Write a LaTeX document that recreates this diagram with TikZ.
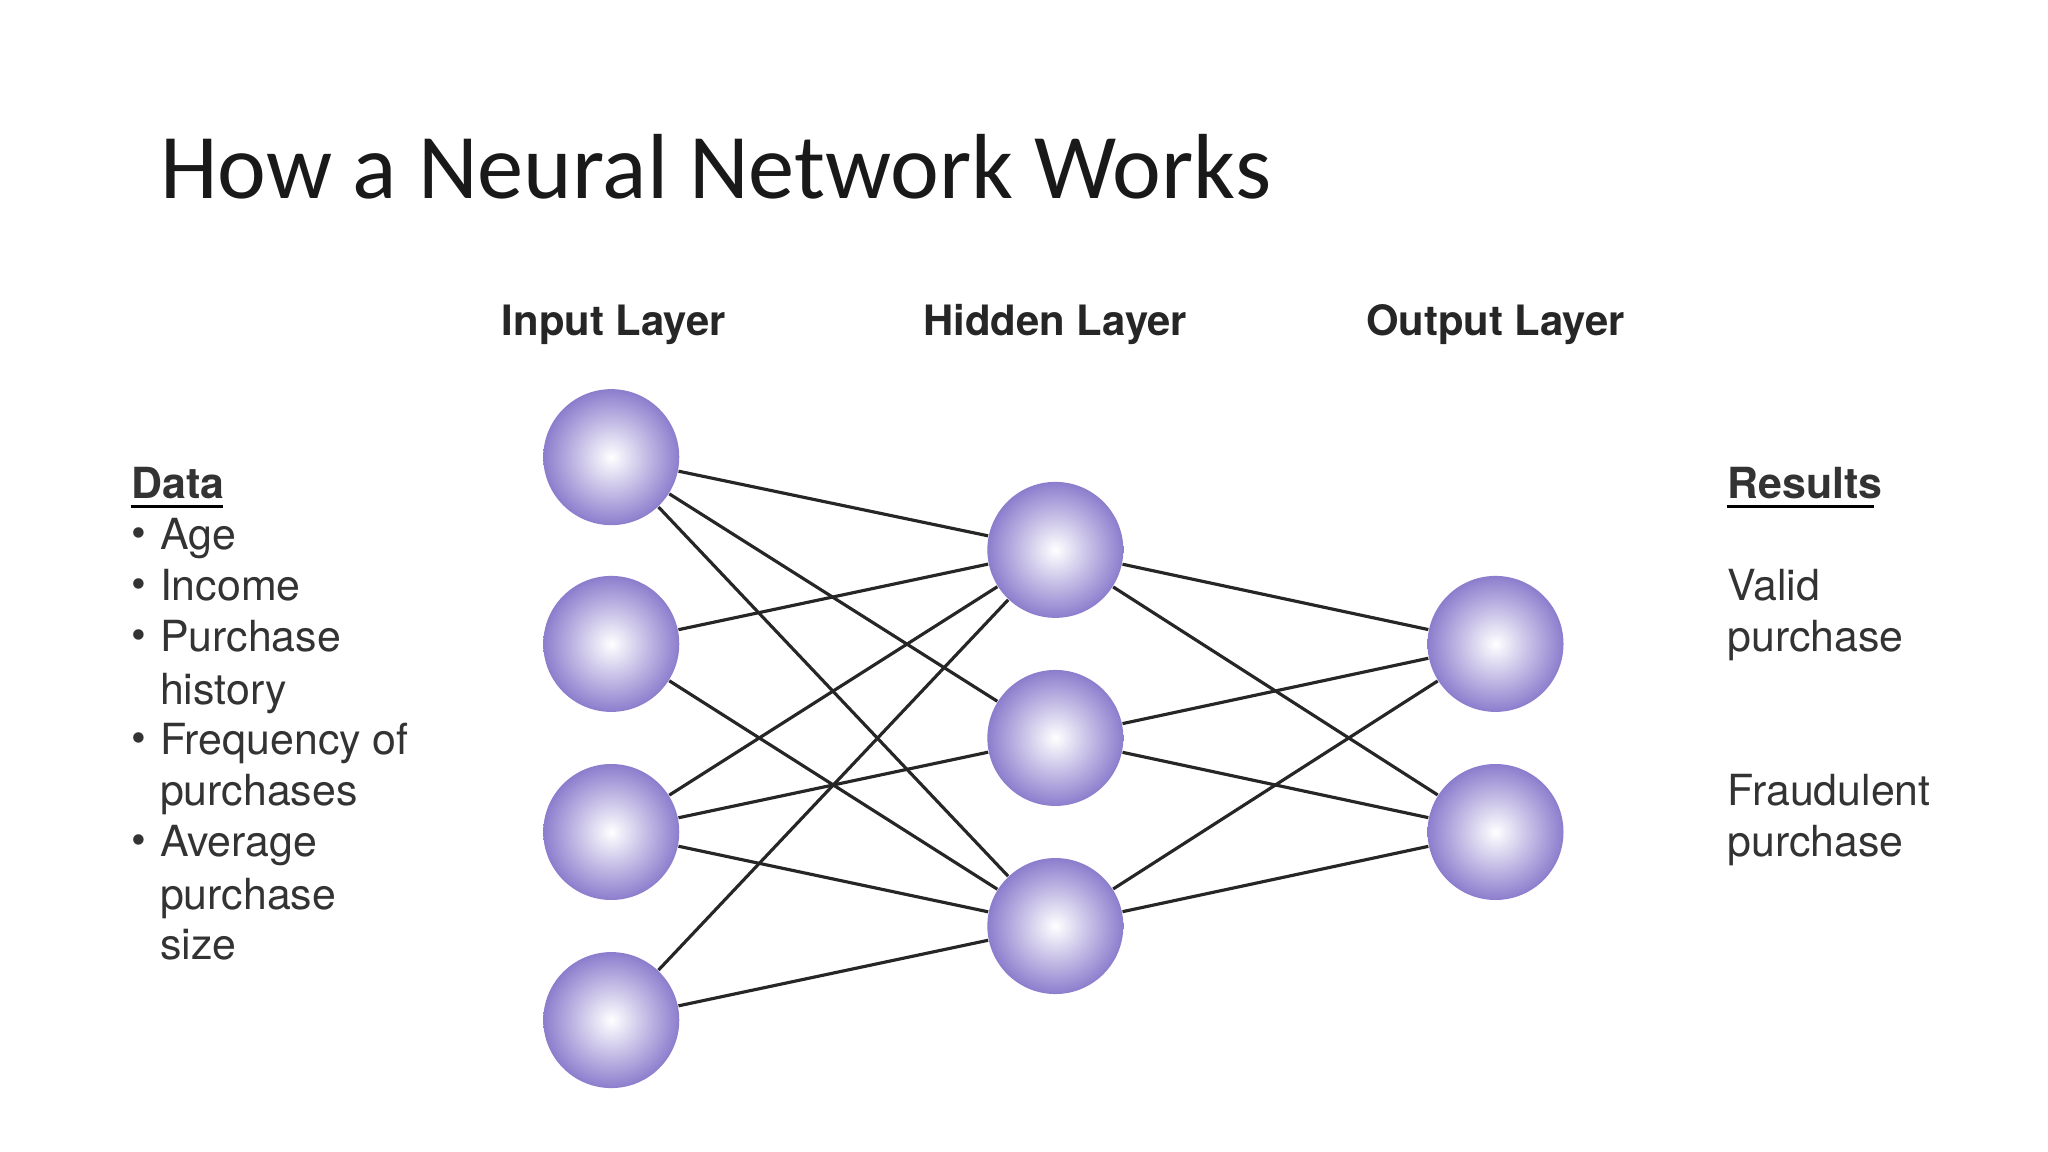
\documentclass[tikz,border=0pt]{standalone}
\usepackage{fontspec}
\setmainfont{TeX Gyre Heros}
\newfontfamily\titlef{Carlito}
\newcommand{\blt}{\makebox[22\dimexpr 0.013061cm\relax][l]{\raisebox{0.1ex}{\large\textbullet}}}
\begin{document}
\begin{tikzpicture}[x=0.013061cm,y=-0.013061cm,
  neuron/.style={circle,minimum size=1.36cm,inner sep=0pt,draw=none,
    inner color=white,outer color={rgb,255:red,140;green,125;blue,205},
    shading=radial},
  link/.style={draw=black!85,line width=0.9pt},
  layer/.style={font=\fontsize{11.9}{14}\selectfont\bfseries,anchor=base,text=black!85},
  txt/.style={font=\fontsize{12.2}{14}\selectfont,anchor=base west,inner sep=0pt,text=black!80}]
\useasboundingbox (0,0) rectangle (1568,882);
\node[anchor=base west,inner sep=0pt,font=\titlef\fontsize{26.3}{30}\selectfont,text=black!90] (title) at (122,152) {How a Neural Network Works};
\node[layer] (li) at (470,257) {Input Layer};
\node[layer] (lh) at (808,257) {Hidden Layer};
\node[layer] (lo) at (1145,257) {Output Layer};
\node[neuron] (i1) at (468,350) {};
\node[neuron] (i2) at (468,493) {};
\node[neuron] (i3) at (468,637) {};
\node[neuron] (i4) at (468,781) {};
\node[neuron] (h1) at (808,421) {};
\node[neuron] (h2) at (808,565) {};
\node[neuron] (h3) at (808,709) {};
\node[neuron] (o1) at (1145,493) {};
\node[neuron] (o2) at (1145,637) {};
\foreach \a/\b in {i1/h1,i1/h2,i1/h3,i2/h1,i2/h3,i3/h1,i3/h2,i3/h3,i4/h1,i4/h3,h1/o1,h1/o2,h2/o1,h2/o2,h3/o1,h3/o2}
  \draw[link] (\a) -- (\b);
\node[txt,font=\fontsize{12.2}{14}\selectfont\bfseries] (data) at (100,382) {Data};
\draw[line width=1pt] (data.south west)++(0,5) -- ++(71,0);
\node[txt] (d1) at (100,421) {\blt Age};
\node[txt] (d2) at (100,460) {\blt Income};
\node[txt] (d3) at (100,499) {\blt Purchase};
\node[txt] (d4) at (122,539) {history};
\node[txt] (d5) at (100,578) {\blt Frequency of};
\node[txt] (d6) at (122,617) {purchases};
\node[txt] (d7) at (100,656) {\blt Average};
\node[txt] (d8) at (122,696) {purchase};
\node[txt] (d9) at (122,735) {size};
\node[txt,font=\fontsize{12.2}{14}\selectfont\bfseries] (res) at (1322,382) {Results};
\draw[line width=1pt] (res.south west)++(0,5) -- ++(113,0);
\node[txt] (r1) at (1322,460) {Valid};
\node[txt] (r2) at (1322,499) {purchase};
\node[txt] (r3) at (1322,617) {Fraudulent};
\node[txt] (r4) at (1322,656) {purchase};
\end{tikzpicture}
\end{document}
